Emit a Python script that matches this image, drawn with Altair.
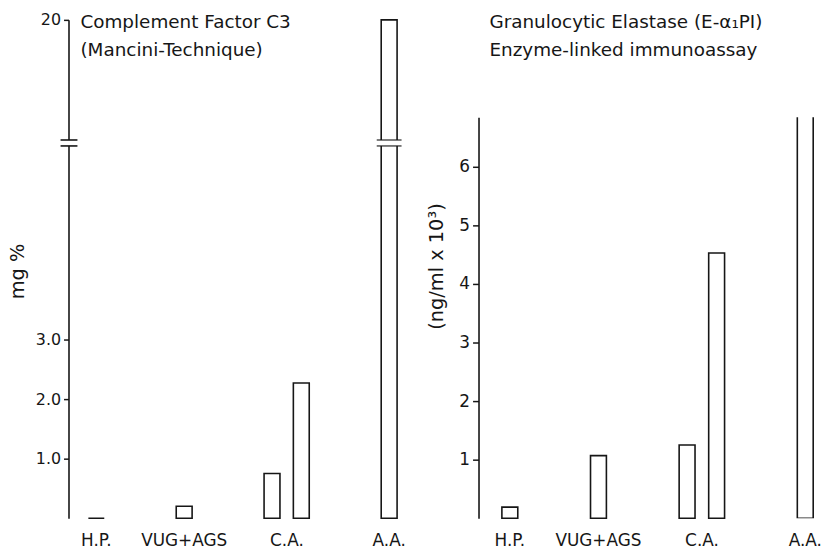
import altair as alt
import pandas as pd

# ---------------- data ----------------
bar_ids = ["H.P.", "VUG+AGS", "C.A. a", "C.A. b", "A.A."]
group_labels = ["H.P.", "VUG+AGS", "C.A.", "", "A.A."]
c3_values = [0.0, 0.2, 0.75, 2.27, 20.0]          # mg %
elastase_values = [0.19, 1.07, 1.25, 4.53, 8.0]   # ng/ml x 10^3 (A.A. runs off the scale)

# band slots (empty slots give the gaps between groups)
slot_domain = ["H.P.", "s1", "s2", "VUG+AGS", "s3", "s4", "C.A. a", "C.A. b", "s5", "s6", "A.A."]

c3_ticks = [1, 2, 3, 20]
c3_break = [6.25, 7.0]
elastase_ticks = [1, 2, 3, 4, 5, 6]
elastase_top = 6.85

c3_title = ["Complement Factor C3", "(Mancini-Technique)"]
el_title = ["Granulocytic Elastase (E-\u03b1\u2081PI)", "Enzyme-linked immunoassay"]

df = pd.DataFrame({"bar": bar_ids, "label": group_labels,
                   "c3": c3_values, "el": elastase_values})

FONT = "DejaVu Sans"
INK = "#161616"
TITLE_SIZE = 18.5

label_expr = ("datum.value == 'C.A. a' ? 'C.A.' : "
              "(indexof(['H.P.','VUG+AGS','A.A.'], datum.value) >= 0 ? datum.value : '')")


def x_axis():
    return alt.Axis(title=None, domain=False, ticks=False, tickSize=0, grid=False,
                    labelAngle=0, labelExpr=label_expr, labelFont=FONT,
                    labelFontSize=17, labelColor=INK, labelPadding=14,
                    labelOffset={"condition": {"test": "datum.value == 'C.A. a'", "value": 15},
                                 "value": 0})


def title_text(lines, dx):
    return alt.Chart(pd.DataFrame({"t": ["\n".join(lines)]})).mark_text(
        align="left", baseline="top", font=FONT, fontSize=TITLE_SIZE, color=INK,
        lineBreak="\n", lineHeight=28).encode(
        x=alt.value(dx), y=alt.value(-7), text="t:N")


# ---------------- left panel ----------------
WL, HL = 351, 502
xs_left = alt.Scale(domain=slot_domain, paddingInner=0, paddingOuter=0.45)
ys_left = alt.Scale(domain=[0, c3_break[0], c3_break[1], 20],
                    range=[HL, 127, 121, 0], zero=False, nice=False)

base_l = alt.Chart(df)
bars_l = base_l.mark_bar(fill="white", stroke=INK, strokeWidth=1.6, size=16).encode(
    x=alt.X("bar:N", scale=xs_left, axis=x_axis(), sort=slot_domain),
    y=alt.Y("c3:Q", scale=ys_left,
            axis=alt.Axis(values=c3_ticks, grid=False, domainColor=INK, domainWidth=1.6,
                          tickColor=INK, tickWidth=1.5, tickSize=5, labelPadding=3,
                          labelFont=FONT, labelFontSize=16, labelColor=INK,
                          labelExpr="datum.value == 20 ? '20' : format(datum.value, '.1f')",
                          title="mg %", titleFont=FONT, titleFontSize=19.5,
                          titleFontWeight="normal", titleColor=INK,
                          titleX=-51, titleY=253, titleBaseline="middle")),
    y2=alt.datum(0),
)

brk_df = pd.DataFrame({"lo": [c3_break[0]], "hi": [c3_break[1]], "bar": ["A.A."]})
brk_base = alt.Chart(brk_df)
# white gap on axis and on the off-scale bar
gap_axis = brk_base.mark_rect(fill="white").encode(
    x=alt.value(-7), x2=alt.value(7),
    y=alt.Y("lo:Q", scale=ys_left), y2="hi:Q")
gap_bar = brk_base.mark_bar(fill="white", size=24).encode(
    x=alt.X("bar:N", scale=xs_left), y=alt.Y("lo:Q", scale=ys_left), y2="hi:Q")
brk_rules = alt.Chart(pd.DataFrame({"v": c3_break})).mark_rule(color=INK, strokeWidth=1.6).encode(
    x=alt.value(-8), x2=alt.value(9), y=alt.Y("v:Q", scale=ys_left))
brk_ticks = alt.Chart(pd.DataFrame({"v": c3_break, "bar": ["A.A.", "A.A."]})).mark_tick(
    color=INK, thickness=1.6, size=25).encode(
    x=alt.X("bar:N", scale=xs_left), y=alt.Y("v:Q", scale=ys_left))

left = alt.layer(bars_l, gap_axis, gap_bar, brk_rules, brk_ticks,
                 title_text(c3_title, 12)).properties(width=WL, height=HL)

# ---------------- right panel ----------------
WR, HR = 344, 404
xs_right = alt.Scale(domain=slot_domain, paddingInner=0, paddingOuter=0.28, align=1)
ys_right = alt.Scale(domain=[0, elastase_top], zero=False, nice=False)

base_r = alt.Chart(df)
enc_r = dict(
    x=alt.X("bar:N", scale=xs_right, axis=x_axis(), sort=slot_domain),
    y=alt.Y("el:Q", scale=ys_right,
            axis=alt.Axis(values=elastase_ticks, grid=False, domainColor=INK, domainWidth=1.6,
                          tickColor=INK, tickWidth=1.5, tickSize=6, labelPadding=3,
                          labelFont=FONT, labelFontSize=17, labelColor=INK, format="d",
                          title="(ng/ml x 10\u00b3)", titleFont=FONT, titleFontSize=19.5,
                          titleFontWeight="normal", titleColor=INK,
                          titleX=-42, titleY=150, titleBaseline="middle")),
    y2=alt.datum(0),
)
bars_r = base_r.transform_filter("datum.bar != 'A.A.'").mark_bar(
    fill="white", stroke=INK, strokeWidth=1.6, size=16).encode(**enc_r)
bars_r_off = base_r.transform_filter("datum.bar == 'A.A.'").mark_bar(
    fill="white", stroke=INK, strokeWidth=1.6, size=16, clip=True).encode(**enc_r)

right_plot = alt.layer(bars_r, bars_r_off).properties(width=WR, height=HR)
right_head = title_text(el_title, 11).properties(width=WR, height=HL - HR)
right = alt.vconcat(right_head, right_plot, spacing=0, bounds="flush")

chart = alt.hconcat(left, right, spacing=10).properties(
    padding={"left": 8, "top": 10, "right": 2, "bottom": 2},
    background="white",
).configure_view(stroke=None)

chart.save("out.html", embed_options={"renderer": "svg", "actions": False})
